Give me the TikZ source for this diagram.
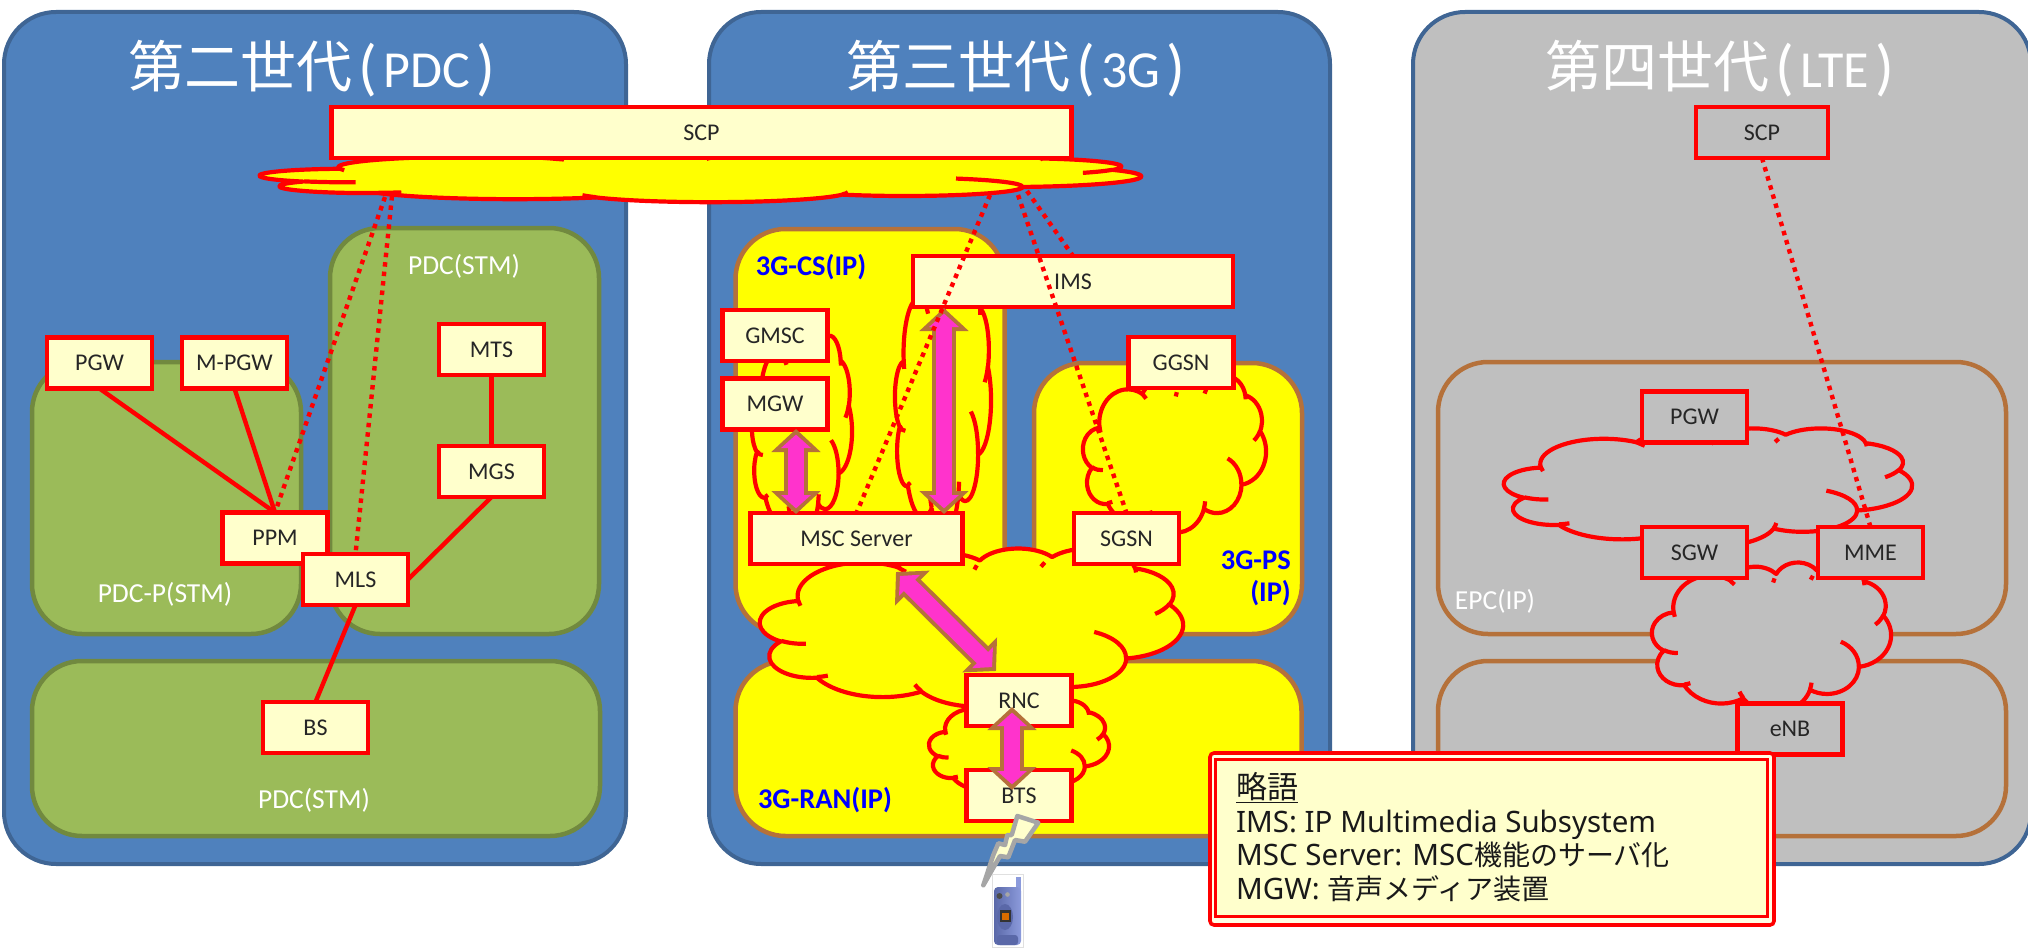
\documentclass[tikz,border=0pt]{standalone}
\usepackage{fontspec}
\usetikzlibrary{arrows.meta}
\setmainfont{Carlito}
\newfontfamily\cjk{Noto Sans CJK JP}
\newfontfamily\tah{Noto Sans}
\definecolor{panelblue}{HTML}{4F81BD}
\definecolor{panelline}{HTML}{3F6594}
\definecolor{panelgray}{HTML}{BFBFBF}
\definecolor{areagreen}{HTML}{9BBB59}
\definecolor{greenline}{HTML}{71893F}
\definecolor{brownline}{HTML}{B5713A}
\definecolor{boxfill}{HTML}{FFFFCC}
\definecolor{pureyellow}{HTML}{FFFF00}
\definecolor{purered}{HTML}{FF0000}
\definecolor{pureblue}{HTML}{0000FF}
\definecolor{pinkfill}{HTML}{FF33CC}
\definecolor{boltgray}{HTML}{A6A6A6}
\definecolor{phoneblue}{HTML}{8C9BDC}
\definecolor{phonedark}{HTML}{5A68A8}
\definecolor{gapfill}{HTML}{FFFFE6}
% --- cloud outline (normalised to a 43.2 x 43.2 box) ---
\newcommand\defarc[5]{%
  \pgfmathsetmacro\tmpA{atan2(#2*sin(#4),#3*cos(#4))}%
  \pgfmathsetmacro\tmpB{atan2(#2*sin(#4+#5),#3*cos(#4+#5))}%
  \pgfmathsetmacro\tmpD{mod(\tmpB-\tmpA+720,360)}%
  \pgfmathsetmacro\tmpR{#2/1000}%
  \pgfmathsetmacro\tmpS{#3/1000}%
  \expandafter\xdef\csname cloudarc#1\endcsname{arc[start angle=\tmpA,delta angle=\tmpD,x radius=\tmpR,y radius=\tmpS]}%
}
\defarc{a}{6753}{9190}{-190.487}{123.781}
\defarc{b}{5333}{7267}{-144.102}{89.945}
\defarc{c}{4365}{5945}{-145.808}{99.723}
\defarc{d}{4857}{6595}{-130.986}{117.242}
\defarc{e}{5333}{7273}{-78.709}{109.027}
\defarc{f}{6775}{9220}{-46.267}{130.269}
\defarc{g}{5785}{7867}{0.625}{114.033}
\defarc{h}{6752}{9215}{22.452}{115.173}
\defarc{i}{7720}{10543}{66.243}{75.711}
\defarc{j}{4360}{5918}{-274.942}{146.736}
\defarc{k}{4345}{5945}{-246.829}{152.519}
\defarc{m}{4345}{5945}{86.742}{26.43}
\defarc{n}{4360}{5918}{73.61}{11.447}
\defarc{o}{6752}{9215}{137.624}{14.081}
\defarc{p}{6752}{9215}{6.453}{15.998}
\defarc{q}{5785}{7867}{-70.292}{70.917}
\defarc{r}{5333}{7273}{30.318}{27.752}
\defarc{s}{4857}{6595}{-13.744}{14.859}
\newcommand\cloudshape[5]{% x1 y1 x2 y2 fill
  \pgfmathsetmacro\cw{(#3-#1)/43.2}%
  \pgfmathsetmacro\ch{(#4-#2)/43.2}%
  \begin{scope}[shift={(#1,#2)},xscale=\cw,yscale=\ch]
    \path[cloudline,fill=#5] (3.9,14.37) \cloudarca \cloudarcb \cloudarcc \cloudarcd \cloudarce \cloudarcf \cloudarcg \cloudarch \cloudarci \cloudarcj \cloudarck -- cycle;
    \path[cloudline] (4.693,26.177) \cloudarcm
      (6.928,34.899) \cloudarcn
      (16.478,39.09) \cloudarco
      (28.827,34.751) \cloudarcp
      (34.129,22.954) \cloudarcq
      (41.798,15.354) \cloudarcr
      (38.324,5.426) \cloudarcs
      (29.078,3.952) -- (28.7,5.1)
      (22.141,4.72) -- (21.9,5.9)
      (14.0,5.192) -- (14.9,6.5)
      (3.9,14.37) -- (4.127,15.789);
  \end{scope}%
}
\tikzset{
  panelbox/.style={draw=panelline,line width=4pt,rounded corners=52pt,inner sep=0pt,outer sep=0pt},
  areabox/.style={line width=4.5pt,rounded corners=50pt,inner sep=0pt,outer sep=0pt},
  greenarea/.style={areabox,draw=greenline,fill=areagreen},
  yellowarea/.style={areabox,draw=brownline,fill=pureyellow},
  grayarea/.style={areabox,draw=brownline,fill=panelgray},
  cloudline/.style={draw=purered,line width=4.2pt,line join=round},
  elembox/.style={draw=purered,line width=4.4pt,fill=boxfill,inner sep=0pt,outer sep=0pt,minimum width=105pt,minimum height=51pt,text=black!85,font=\fontsize{24}{26}\selectfont},
  lteelem/.style={elembox,fill=panelgray},
  solidlink/.style={draw=purered,line width=4.4pt},
  dotlink/.style={draw=purered,line width=4.4pt,dash pattern=on 4.5pt off 5pt},
  titletext/.style={text=white,inner sep=0pt},
  whitelabel/.style={text=white,inner sep=0pt,font=\fontsize{27.5}{29}\selectfont},
  bluelabel/.style={text=pureblue,inner sep=0pt,font=\bfseries\fontsize{28.5}{30}\selectfont},
  arrowouter/.style={draw=brownline,line width=24pt,{Triangle[length=23pt,width=48pt]}-{Triangle[length=23pt,width=48pt]}},
  arrowinner/.style={draw=pinkfill,line width=16pt,shorten <=5.6pt,shorten >=5.6pt,{Triangle[length=13.4pt,width=29pt]}-{Triangle[length=13.4pt,width=29pt]}},
}
\newcommand\titlefont{\fontsize{52}{60}\selectfont}
\newcommand\parenfont{\fontsize{62}{60}\selectfont}
\newcommand\titletxt[2]{{\fontsize{56}{60}\selectfont\cjk #1}\hspace{6pt}{\parenfont\raisebox{-1pt}{(}}\hspace{6pt}{\titlefont #2}\hspace{6pt}{\parenfont\raisebox{-1pt}{)}}}
\newcommand\blockarrow[2]{\draw[arrowouter] (#1) -- (#2);\draw[arrowinner] (#1) -- (#2);}
\begin{document}
\begin{tikzpicture}[x=1pt,y=-1pt]
\useasboundingbox (0,0) rectangle (2028,952);
% panels
\node[panelbox,fill=panelblue,minimum width=622pt,minimum height=852pt] (panelA) at (315,438) {};
\node[panelbox,fill=panelblue,minimum width=621pt,minimum height=852pt] (panelB) at (1019.5,438) {};
\node[panelbox,fill=panelgray,minimum width=618pt,minimum height=852pt] (panelC) at (1722,438) {};
\node[titletext] (titleA) at (312,69) {\titletxt{第二世代}{PDC}};
\node[titletext] (titleB) at (1016,69) {\titletxt{第三世代}{3G}};
\node[titletext] (titleC) at (1720,69) {\titletxt{第四世代}{LTE}};
% areas
\node[greenarea,minimum width=269pt,minimum height=406pt] (pdcstm) at (464.5,431) {};
\node[greenarea,minimum width=269pt,minimum height=272pt] (pdcp) at (166.5,498) {};
\node[greenarea,minimum width=568pt,minimum height=175pt] (pdcbot) at (316,748.5) {};
\node[whitelabel] (lblstm) at (464,266) {PDC(STM)};
\node[whitelabel] (lblp) at (165,594) {PDC-P(STM)};
\node[whitelabel] (lblbot) at (314,800) {PDC(STM)};
\node[yellowarea,minimum width=269pt,minimum height=405pt] (cs) at (870,431.5) {};
\node[yellowarea,minimum width=268pt,minimum height=271pt] (ps) at (1168,498.5) {};
\node[yellowarea,minimum width=566pt,minimum height=175pt] (ran) at (1018.5,748.5) {};
\node[bluelabel] (lblcs) at (811,267) {3G-CS(IP)};
\node[bluelabel,anchor=east] (lblps) at (1291,560) {3G-PS};
\node[bluelabel,anchor=east] (lblps2) at (1291,593) {(IP)};
\node[bluelabel] (lblran) at (825,800) {3G-RAN(IP)};
\node[grayarea,minimum width=568pt,minimum height=272pt] (epc) at (1722,498) {};
\node[grayarea,minimum width=568pt,minimum height=175pt] (ltebot) at (1722,748.5) {};
\node[whitelabel] (lblepc) at (1495,601) {EPC(IP)};
% clouds
\cloudshape{260}{152}{1141}{202}{pureyellow}
\cloudshape{752}{335}{852}{533}{pureyellow}
\cloudshape{895}{275}{991}{532}{pureyellow}
\cloudshape{1083}{375}{1266}{532}{pureyellow}
\cloudshape{760}{548}{1183}{706}{pureyellow}
\cloudshape{929}{700}{1109}{795}{pureyellow}
\cloudshape{1504}{428}{1912}{546}{panelgray}
\cloudshape{1652}{562}{1891}{712}{panelgray}
% boxes
\node[elembox,minimum width=740pt] (scpbig) at (701.5,132.5) {SCP};
\node[elembox] (pgwA) at (99.5,363) {PGW};
\node[elembox] (mpgw) at (234.5,363) {M-PGW};
\node[elembox] (mts) at (491.5,349.5) {MTS};
\node[elembox] (mgs) at (491.5,471.5) {MGS};
\node[elembox] (ppm) at (275,538) {PPM};
\draw[solidlink] (pgwA.south) -- (ppm.north);
\draw[solidlink] (mpgw.south) -- (ppm.north);
\draw[solidlink] (mts.south) -- (mgs.north);
\node[elembox] (mls) at (355.5,579.5) {MLS};
\node[elembox] (bs) at (315.5,727.5) {BS};
\draw[solidlink] (mgs.south) -- (mls.east);
\draw[solidlink] (mls.south) -- (bs.north);
\node[elembox] (bts) at (1019,795.5) {BTS};
\node[elembox] (rnc) at (1019,700.5) {RNC};
\node[elembox,minimum width=212pt] (msc) at (856.5,538.5) {MSC Server};
\node[elembox] (sgsn) at (1126.5,538.5) {SGSN};
\node[elembox] (ggsn) at (1181,362.5) {GGSN};
\node[elembox] (gmsc) at (775,335.5) {GMSC};
\node[elembox] (mgw) at (775,404) {MGW};
\node[elembox,minimum width=320pt] (ims) at (1073,281.5) {IMS};
\node[lteelem,minimum width=132pt] (scplte) at (1762,132.5) {SCP};
\node[lteelem] (pgwC) at (1694.5,417) {PGW};
\node[lteelem] (sgw) at (1694.5,552.5) {SGW};
\node[lteelem] (mme) at (1870.5,552.5) {MME};
\node[lteelem] (enb) at (1790,729) {eNB};
% block arrows
\coordinate (aOneT) at (796,429);
\coordinate (aOneB) at (796,514);
\coordinate (aTwoT) at (944,308);
\coordinate (aTwoB) at (944,514);
\coordinate (aThrA) at (896,572);
\coordinate (aThrB) at (996,671);
\coordinate (aFouT) at (1012,707);
\coordinate (aFouB) at (1012,790);
\blockarrow{aOneT}{aOneB}
\blockarrow{aTwoT}{aTwoB}
\blockarrow{aThrA}{aThrB}
\blockarrow{aFouT}{aFouB}
% dotted links
\coordinate (cloudP) at (385,197);
\coordinate (cloudQ) at (392,196);
\coordinate (cloudR) at (990,195);
\coordinate (cloudS) at (1018,195);
\coordinate (cloudT) at (1027,191);
\draw[dotlink] (cloudP) -- (ppm.north);
\draw[dotlink] (cloudQ) -- (mls.north);
\draw[dotlink] (cloudR) -- (msc.north);
\draw[dotlink] (cloudS) -- (sgsn.north);
\draw[dotlink] (cloudT) -- (ims.north);
\draw[dotlink] (scplte.south) -- (mme.north);
% lightning and phone
\draw[draw=boltgray,fill=boxfill,line width=4.5pt,line join=round]
  (1017.3,816) -- (1038.3,822.7) -- (1025,841.7) -- (1015,840) -- (1008.3,857.3) -- (1000,856) -- (983.3,885.3) -- (993.3,855) -- (998.3,843.3) -- (1005,845) -- (1007.3,835) -- (1011.7,835) -- cycle;
\draw[draw=black!12,line width=0.8pt,fill=white] (992,874) rectangle (1023.5,947);
\fill[phoneblue] (1016,877) rectangle (1020.5,892);
\path[rounded corners=4pt,left color=phonedark,right color=phoneblue] (994,887) rectangle (1021,945);
\fill[phonedark,rounded corners=3pt] (997,935) rectangle (1018,945);
\fill[black!70] (999.5,896) circle (3pt);
\fill[black!35] (1007.5,894.5) circle (2.3pt);
\fill[phonedark] (1005,917) ellipse (8pt and 13pt);
\fill[black!80] (999.5,910) rectangle (1010.5,922);
\fill[orange!85!black] (1001.5,912.5) rectangle (1008.5,919.5);
% legend
\node[draw=purered,line width=3.6pt,fill=gapfill,rounded corners=4pt,inner sep=0pt,outer sep=0pt,minimum width=564pt,minimum height=172pt] (legendout) at (1492,839) {};
\node[draw=purered,line width=3.2pt,fill=boxfill,inner sep=0pt,outer sep=0pt,minimum width=552pt,minimum height=157pt] (legendin) at (1491.5,838) {};
\node[anchor=north west,inner sep=0pt,align=left,text=black!90,font=\tah\fontsize{29.5}{33.7}\selectfont] (legendtext) at (1236,772) {\underline{{\fontsize{31}{33.7}\selectfont\cjk 略語}}\\IMS: IP Multimedia Subsystem\\MSC Server: MSC{\fontsize{28}{33.7}\selectfont\cjk 機能のサーバ化}\\MGW: {\fontsize{28}{33.7}\selectfont\cjk 音声メディア装置}};
\end{tikzpicture}
\end{document}
